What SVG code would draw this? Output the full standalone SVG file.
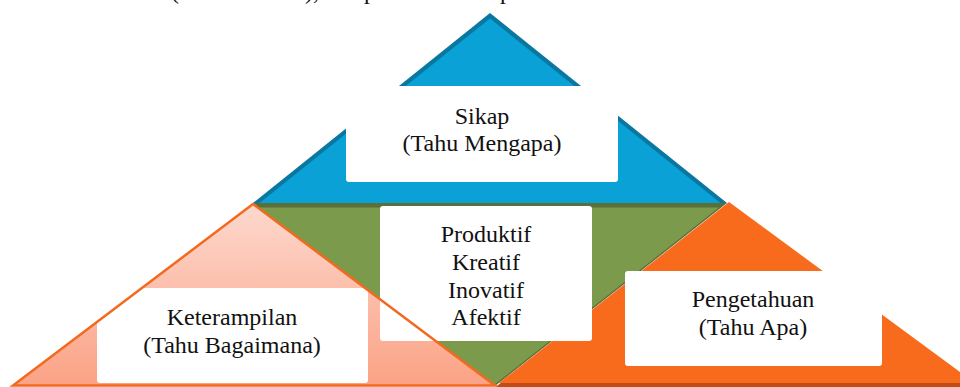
<svg xmlns="http://www.w3.org/2000/svg" width="960" height="387" viewBox="0 0 960 387">
  <defs>
    <linearGradient id="salmonFill" x1="0" y1="204" x2="0" y2="386" gradientUnits="userSpaceOnUse">
      <stop offset="0" stop-color="#fdd8ce"/>
      <stop offset="1" stop-color="#fba285"/>
    </linearGradient>
  </defs>
  <style>
    .label { font-family: "Liberation Serif", "Times New Roman", serif; font-size: 24px; fill: #111; text-anchor: middle; }
    .frag { font-family: "Liberation Serif", "Times New Roman", serif; font-size: 24px; fill: #111; }
    .box { fill: #ffffff; }
  </style>

  <rect width="960" height="387" fill="#ffffff"/>

  <!-- line of body text running above the figure, mostly outside the frame -->
  <g id="running-text">
    <text class="frag" x="171" y="-1">(</text>
    <text class="frag" x="305" y="-1">),</text>
    <text class="frag" x="364" y="-1">p</text>
    <text class="frag" x="500" y="-1">p</text>
  </g>

  <!-- Sikap: blue triangle with dark rim -->
  <g id="node-sikap">
    <polygon points="490,13 253,203 727,203" fill="#0a77a1"/>
    <polygon points="490,18.5 259.5,203 720.5,203" fill="#0aa1d7"/>
  </g>

  <!-- centre: inverted green triangle -->
  <g id="node-inti">
    <polygon points="253,203 727,203 495,386" fill="#5b6f38"/>
    <polygon points="258,207.5 719,207.5 494,385" fill="#7c9a4b"/>
  </g>

  <!-- Pengetahuan: orange triangle with shadow on its left flank -->
  <g id="node-pengetahuan">
    <polygon points="724,208 493,389 975,389" fill="#c04d15"/>
    <polygon points="729,202 499,383 975,383" fill="#f96b1c"/>
  </g>

  <!-- Keterampilan: salmon triangle -->
  <g id="node-keterampilan">
    <polygon points="253,204 13,385.5 495,385.5" fill="url(#salmonFill)"/>
  </g>

  <!-- white label panels -->
  <g id="panels">
    <rect class="box" x="346" y="86" width="272" height="96" rx="3"/>
    <rect class="box" x="380" y="206" width="212" height="135" rx="3"/>
    <rect class="box" x="97" y="288" width="271" height="95" rx="3"/>
    <rect class="box" x="625" y="271" width="257" height="95" rx="3"/>
  </g>

  <!-- outline of the salmon triangle, drawn over the panels -->
  <g id="connectors">
    <polygon points="253,204 13,385.5 495,385.5" fill="none" stroke="#f26a1f" stroke-width="2.5" stroke-linejoin="miter"/>
  </g>

  <!-- labels -->
  <g id="labels">
    <text class="label" x="482" y="123.5">Sikap</text>
    <text class="label" x="482" y="151">(Tahu Mengapa)</text>

    <text class="label" x="486" y="242">Produktif</text>
    <text class="label" x="486" y="269.5">Kreatif</text>
    <text class="label" x="486" y="297.5">Inovatif</text>
    <text class="label" x="486" y="325">Afektif</text>

    <text class="label" x="232" y="325">Keterampilan</text>
    <text class="label" x="232" y="352.5">(Tahu Bagaimana)</text>

    <text class="label" x="753" y="306.5">Pengetahuan</text>
    <text class="label" x="753" y="335">(Tahu Apa)</text>
  </g>
</svg>
